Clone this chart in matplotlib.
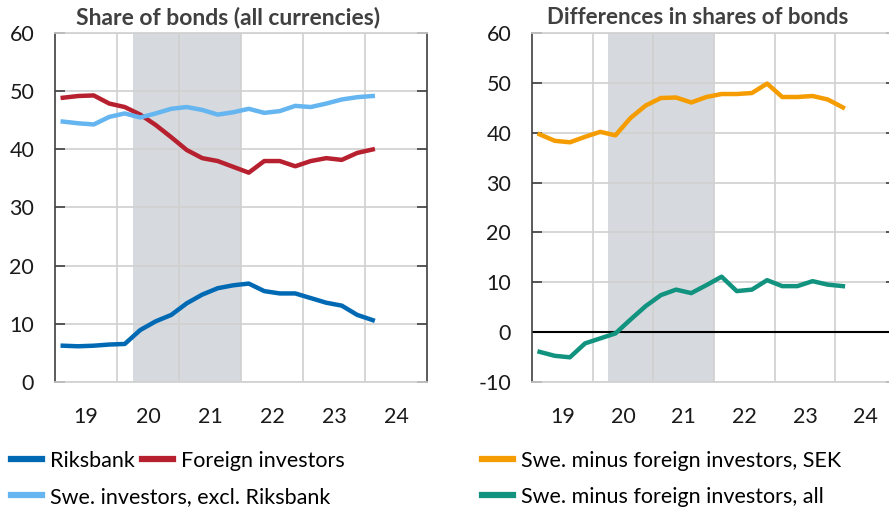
import matplotlib
matplotlib.use("Agg")
import matplotlib.pyplot as plt
import numpy as np

plt.rcParams['font.family'] = ['Lato', 'DejaVu Sans']
plt.rcParams['axes.unicode_minus'] = False

# Quarterly data 2019 Q1 - 2024 Q1
quarters = 2019 + (np.arange(21) + 0.5) / 4

riksbank = [6.2, 6.1, 6.2, 6.4, 6.5, 8.9, 10.4, 11.5, 13.5, 15.0, 16.1,
            16.6, 16.9, 15.6, 15.2, 15.2, 14.4, 13.6, 13.1, 11.5, 10.6]
foreign = [48.9, 49.2, 49.3, 47.9, 47.3, 46.0, 44.2, 42.1, 39.9, 38.5, 38.0,
           37.0, 36.0, 38.0, 38.0, 37.1, 38.0, 38.5, 38.2, 39.4, 40.0]
swe_excl = [44.8, 44.5, 44.3, 45.6, 46.2, 45.5, 46.2, 47.0, 47.3, 46.8, 46.0,
            46.4, 47.0, 46.3, 46.6, 47.5, 47.3, 47.9, 48.6, 49.0, 49.2]

diff_sek = [39.7, 38.4, 38.1, 39.2, 40.2, 39.5, 43.0, 45.5, 47.0, 47.1, 46.1,
            47.2, 47.8, 47.8, 48.0, 49.9, 47.2, 47.2, 47.4, 46.7, 45.1]
diff_all = [-4.0, -4.8, -5.1, -2.3, -1.3, -0.3, 2.5, 5.2, 7.4, 8.5, 7.8,
            9.4, 11.1, 8.2, 8.5, 10.4, 9.2, 9.2, 10.2, 9.5, 9.2]

year_labels = ["19", "20", "21", "22", "23", "24"]
shade_start, shade_end = 2020.25, 2022.0

c_riks = "#0069b4"
c_foreign = "#b7202e"
c_swe = "#64b5f0"
c_sek = "#f59c00"
c_all = "#12937f"
c_shade = "#d6d9de"
c_grid = "#d0d0d0"
c_spine = "#404040"

fig = plt.figure(figsize=(8.89, 5.11), dpi=100)
ax1 = fig.add_axes([55 / 889, 129.3 / 511, 372 / 889, 348.4 / 511])
ax2 = fig.add_axes([532 / 889, 129.3 / 511, 364 / 889, 348.4 / 511])


def style(ax, ylim):
    ax.set_xlim(2019, 2025)
    ax.set_ylim(*ylim)
    ax.axvspan(shade_start, shade_end, color=c_shade, lw=0, zorder=0)
    ax.set_yticks(np.arange(ylim[0], ylim[1] + 1, 10))
    ax.set_xticks(np.arange(2020, 2025), minor=False)
    ax.set_xticklabels([])
    ax.set_xticks(np.arange(2019, 2025) + 0.5, minor=True)
    ax.set_xticklabels(year_labels, minor=True)
    ax.grid(True, axis="both", which="major", color=c_grid, lw=1.2, zorder=0.5)
    ax.tick_params(axis="x", which="both", length=0, pad=18, labelsize=15.5,
                   labelcolor="#1a1a1a")
    ax.tick_params(axis="y", which="major", direction="in", length=7,
                   width=1.2, color=c_spine, left=True, right=True, pad=15,
                   labelsize=15.5, labelcolor="#1a1a1a")
    for s in ["left", "right"]:
        ax.spines[s].set_color(c_spine)
        ax.spines[s].set_linewidth(1.2)
    for s in ["top", "bottom"]:
        ax.spines[s].set_color(c_grid)
        ax.spines[s].set_linewidth(1.2)
    ax.set_axisbelow(True)


style(ax1, (0, 60))
style(ax2, (-10, 60))
ax2.axhline(0, color="black", lw=1.5, zorder=1)

lw = 3.2
l_riks, = ax1.plot(quarters, riksbank, color=c_riks, lw=lw, zorder=3)
l_for, = ax1.plot(quarters, foreign, color=c_foreign, lw=lw, zorder=3)
l_swe, = ax1.plot(quarters, swe_excl, color=c_swe, lw=lw, zorder=3)
l_sek, = ax2.plot(quarters, diff_sek, color=c_sek, lw=lw, zorder=3)
l_all, = ax2.plot(quarters, diff_all, color=c_all, lw=lw, zorder=3)

fig.text(228 / 889, 1 - 17 / 511, "Share of bonds (all currencies)", ha="center",
         va="center", fontsize=16.5, fontweight="bold", color="#404040")
fig.text(698 / 889, 1 - 17 / 511, "Differences in shares of bonds", ha="center",
         va="center", fontsize=16, fontweight="bold", color="#404040")

# legend entries placed one by one, like the reference
entries = [
    (l_riks, "Riksbank", 11, 461),
    (l_for, "Foreign investors", 142, 461),
    (l_swe, "Swe. investors, excl. Riksbank", 11, 497),
    (l_sek, "Swe. minus foreign investors, SEK", 482, 461),
    (l_all, "Swe. minus foreign investors, all", 482, 497),
]
for handle, label, x, y in entries:
    leg = fig.legend([handle], [label], loc="center left",
                     bbox_to_anchor=(x / 889, 1 - y / 511), frameon=False,
                     fontsize=15.5, handlelength=1.45, handletextpad=0.35,
                     borderaxespad=0, borderpad=0)
    leg.get_lines()[0].set_linewidth(4.5)

fig.savefig("out.png", dpi=100)
